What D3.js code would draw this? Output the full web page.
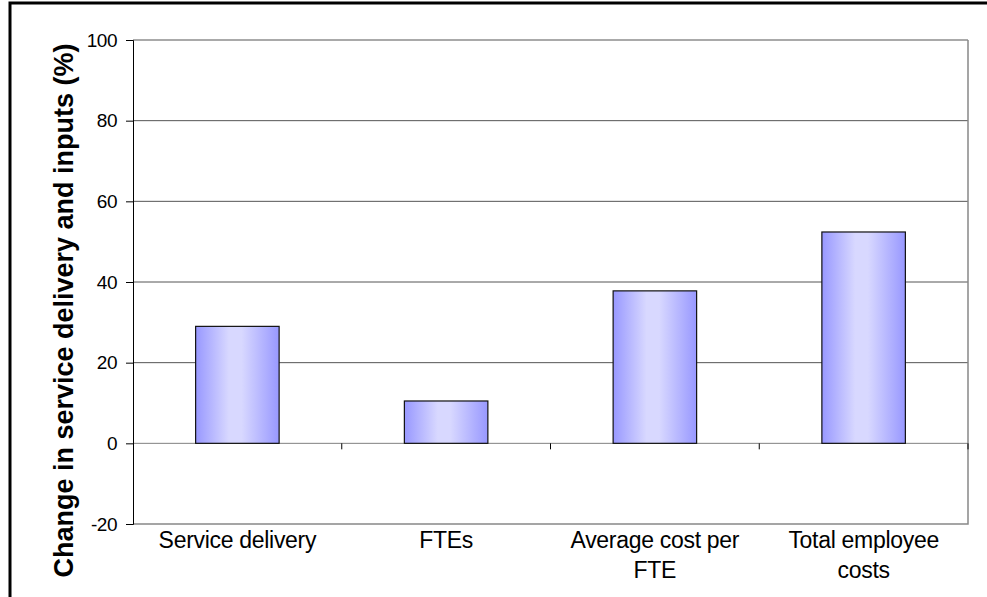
<!DOCTYPE html>
<html>
<head>
<meta charset="utf-8">
<script src="https://cdn.jsdelivr.net/npm/d3@7"></script>
<style>
  body { margin: 0; background: #fff; }
  svg { display: block; font-family: Arial, "Liberation Sans", sans-serif; }
</style>
</head>
<body>
<div id="chart"></div>
<script>
// data
const categories = ["Service delivery", "FTEs", "Average cost per FTE", "Total employee costs"]
const labelLines = [["Service delivery"], ["FTEs"], ["Average cost per", "FTE"], ["Total employee", "costs"]]
const values = [29, 10.5, 37.8, 52.4]
const yTicks = [-20, 0, 20, 40, 60, 80, 100]

const width = 987
const height = 597
const margin = { top: 40, bottom: 73, left: 133, right: 19 }

const svg = d3.select("#chart")
    .append("svg")
      .attr("width", width)
      .attr("height", height)

// outer frame
svg.append("rect")
    .attr("x", 10).attr("y", 3)
    .attr("width", width + 10).attr("height", height + 10)
    .attr("fill", "none")
    .attr("stroke", "#000")
    .attr("stroke-width", 3)

// gradient for bars
const grad = svg.append("defs").append("linearGradient")
    .attr("id", "barGrad")
    .attr("x1", "0%").attr("x2", "100%").attr("y1", "0%").attr("y2", "0%")
grad.append("stop").attr("offset", "0%").attr("stop-color", "#9898ff")
grad.append("stop").attr("offset", "40%").attr("stop-color", "#d8d8ff")
grad.append("stop").attr("offset", "55%").attr("stop-color", "#d8d8ff")
grad.append("stop").attr("offset", "100%").attr("stop-color", "#9898ff")

const x = d3.scaleBand()
    .domain(categories)
    .range([margin.left, width - margin.right])
    .paddingInner(0.6)
    .paddingOuter(0.3)

const xOuter = d3.scaleBand()
    .domain(categories)
    .range([margin.left, width - margin.right])

const y = d3.scaleLinear()
    .domain([-20, 100])
    .range([height - margin.bottom, margin.top])

// gridlines
svg.append("g")
    .selectAll("line")
    .data(yTicks.filter(d => d > -20))
    .join("line")
      .attr("x1", margin.left).attr("x2", width - margin.right)
      .attr("y1", d => y(d)).attr("y2", d => y(d))
      .attr("stroke", d => d === 0 ? "#808080" : "#555")
      .attr("stroke-width", 1)

// plot frame (bottom + right, grey)
svg.append("path")
    .attr("d", `M${margin.left},${y(-20)}H${width - margin.right}V${y(100)}`)
    .attr("fill", "none")
    .attr("stroke", "#888")
    .attr("stroke-width", 1.5)

// bars
svg.append("g")
    .selectAll("rect")
    .data(values)
    .join("rect")
      .attr("x", (d, i) => x(categories[i]))
      .attr("width", x.bandwidth())
      .attr("y", d => y(d))
      .attr("height", d => y(0) - y(d))
      .attr("fill", "url(#barGrad)")
      .attr("stroke", "#111")
      .attr("stroke-width", 1.2)

// category ticks on zero line
svg.append("g")
    .selectAll("line")
    .data(categories)
    .join("line")
      .attr("x1", d => xOuter(d) + xOuter.bandwidth())
      .attr("x2", d => xOuter(d) + xOuter.bandwidth())
      .attr("y1", y(0)).attr("y2", y(0) + 6)
      .attr("stroke", "#000")

// y axis
const yAxis = d3.axisLeft(y).tickValues(yTicks).tickSize(7).tickPadding(9)
    .tickFormat(d => String(d))
const yAxisGroup = svg.append("g")
    .attr("transform", `translate(${margin.left},0)`)
    .call(yAxis)
yAxisGroup.select(".domain").attr("stroke", "#000")
yAxisGroup.selectAll("text")
    .attr("font-size", 19)
    .attr("letter-spacing", -0.5)
    .attr("font-family", "Arial, 'Liberation Sans', sans-serif")
    .attr("fill", "#000")

// x labels
const xLabels = svg.append("g")
    .selectAll("text")
    .data(labelLines)
    .join("text")
      .attr("x", (d, i) => xOuter(categories[i]) + xOuter.bandwidth() / 2)
      .attr("y", 548)
      .attr("text-anchor", "middle")
      .attr("font-size", 23)
      .attr("letter-spacing", -0.3)
      .attr("fill", "#000")
xLabels.selectAll("tspan")
    .data(d => d)
    .join("tspan")
      .attr("x", function () { return this.parentNode.getAttribute("x") })
      .attr("dy", (d, i) => i === 0 ? 0 : 30)
      .text(d => d)

// y label
svg.append("text")
    .attr("transform", `translate(73,310.5) rotate(-90)`)
    .attr("text-anchor", "middle")
    .attr("font-size", 27)
    .attr("font-weight", "bold")
    .text("Change in service delivery and inputs (%)")
</script>
</body>
</html>
